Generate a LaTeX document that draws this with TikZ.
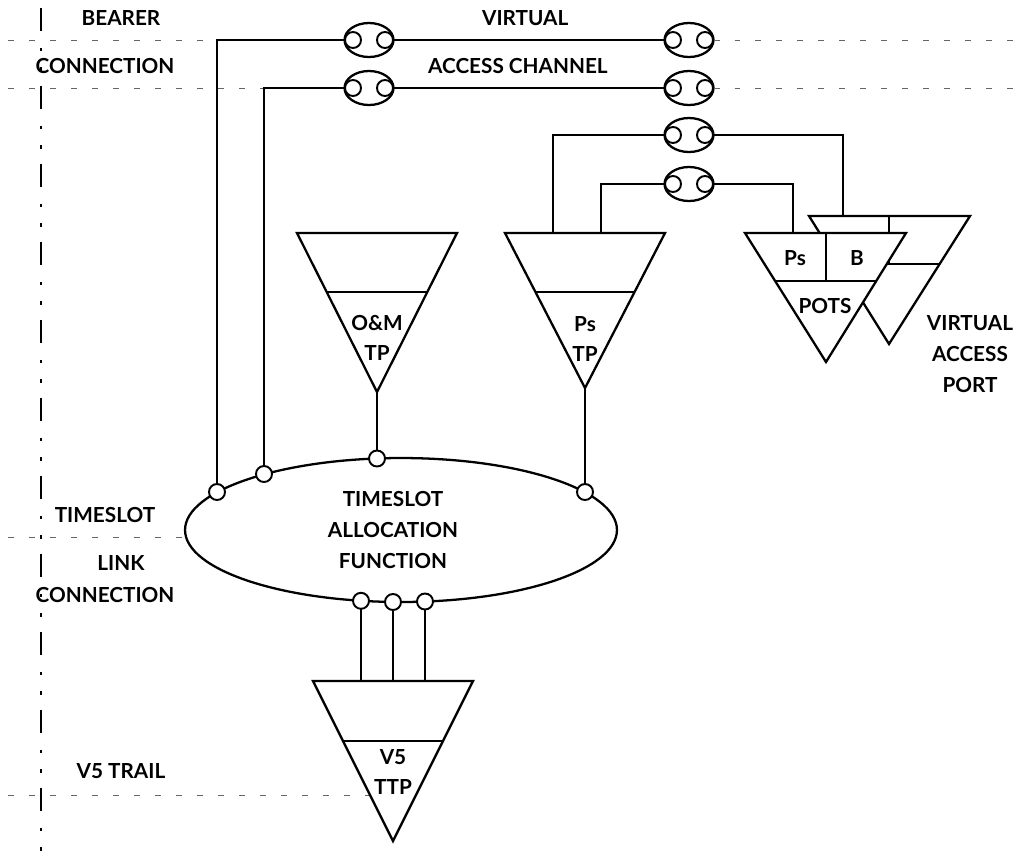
\documentclass[tikz,border=0pt]{standalone}
\usepackage{fontspec}
\setmainfont{Lato}
\usetikzlibrary{shapes.geometric,calc}

\begin{document}
\begin{tikzpicture}[x=0.02cm,y=-0.02cm,line width=1.3pt,
    lbl/.style={font=\fontsize{11.8}{17.5}\selectfont\bfseries,align=center,inner sep=0},
    conn/.style={ellipse,draw,fill=white,minimum width=0.98cm,minimum height=0.68cm,inner sep=0,outer sep=0,
        path picture={\draw[line width=1.1pt] ([xshift=0.17cm]path picture bounding box.west) circle (0.16cm)
            ([xshift=-0.17cm]path picture bounding box.east) circle (0.16cm);}},
    port/.style={circle,draw,fill=white,minimum size=0.32cm,inner sep=0,outer sep=0,line width=1.1pt},
    layer/.style={line width=0.5pt,black!60,dash pattern=on 0.12cm off 0.3cm},
    axisline/.style={line width=0.6pt,dash pattern=on 0.46cm off 0.34cm on 0.07cm off 0.32cm on 0.07cm off 0.30cm}]
    \useasboundingbox (0,0) rectangle (1024,863);

    % layer labels
    \node[lbl] (bearer) at (121,18) {BEARER};
    \node[lbl] (bconn) at (105,66) {CONNECTION};
    \node[lbl,anchor=west] (virtual) at (481,18) {VIRTUAL};
    \node[lbl,anchor=west] (channel) at (427,66) {ACCESS CHANNEL};
    \node[lbl] (tslot) at (105,515) {TIMESLOT};
    \node[lbl] (link) at (121,563) {LINK};
    \node[lbl] (lconn) at (105,595) {CONNECTION};
    \node[lbl] (trail) at (121,771) {V5 TRAIL};
    \node[lbl] (vap) at (970,354) {VIRTUAL\\ACCESS\\PORT};

    % channels
    \node[conn] (vc1) at (369,40) {};
    \node[conn] (vc2) at (369,88) {};
    \node[conn] (vc3) at (689,40) {};
    \node[conn] (vc4) at (689,88) {};
    \node[conn] (pc1) at (689,135) {};
    \node[conn] (pc2) at (689,184) {};

    % layer lines
    \draw[layer] (8,40) -- (217,40);
    \draw[layer] (vc3.east) -- (1024,40);
    \draw[layer] (8,88) -- (264,88);
    \draw[layer] (vc4.east) -- (1024,88);
    \draw[layer] (8,537) -- (186,537);
    \draw[layer] (8,795) -- (370,795);
    \draw[axisline] (41,8) -- (41,863);

    % timeslot allocation function
    \node[ellipse,draw,minimum width=8.64cm,minimum height=2.88cm,inner sep=0,outer sep=0] (taf) at (401,530) {};
    \node[lbl] (taf-txt) at (393,530) {TIMESLOT\\ALLOCATION\\FUNCTION};
    \node[port] (p1) at (217,492) {};
    \node[port] (p2) at (264,474) {};
    \node[port] (p3) at (377,458.5) {};
    \node[port] (p4) at (585,492) {};
    \node[port] (p5) at (361,600.8) {};
    \node[port] (p6) at (393,602) {};
    \node[port] (p7) at (425,601.5) {};

    % termination points
    \coordinate (om-l) at (297,233); \coordinate (om-r) at (457,233); \coordinate (om-a) at (377,392);
    \coordinate (ps-l) at (505,233); \coordinate (ps-r) at (665,233); \coordinate (ps-a) at (585,388);
    \coordinate (pb-l) at (809,216); \coordinate (pb-r) at (970,216); \coordinate (pb-a) at (889,344);
    \coordinate (pf-l) at (745,233); \coordinate (pf-r) at (906,233); \coordinate (pf-a) at (826,362);
    \coordinate (v5-l) at (313,681); \coordinate (v5-r) at (473,681); \coordinate (v5-a) at (393,841);

    \draw[fill=white] (om-l) -- (om-r) -- (om-a) -- cycle;
    \draw ($(om-l)!0.37!(om-a)$) -- ($(om-r)!0.37!(om-a)$);
    \node[lbl] (om-txt) at (377,338) {O\&M\\TP};

    \draw[fill=white] (ps-l) -- (ps-r) -- (ps-a) -- cycle;
    \draw ($(ps-l)!0.38!(ps-a)$) -- ($(ps-r)!0.38!(ps-a)$);
    \node[lbl] (ps-txt) at (585,339) {Ps\\TP};

    \draw[fill=white] (pb-l) -- (pb-r) -- (pb-a) -- cycle;
    \draw ($(pb-l)!0.375!(pb-a)$) -- ($(pb-r)!0.375!(pb-a)$);
    \draw (889,216) -- (889,264);

    \draw[fill=white] (pf-l) -- (pf-r) -- (pf-a) -- cycle;
    \draw ($(pf-l)!0.372!(pf-a)$) -- ($(pf-r)!0.372!(pf-a)$);
    \draw (826,233) -- (826,281);
    \node[lbl] (pots-ps) at (795,258) {Ps};
    \node[lbl] (pots-b) at (857,258) {B};
    \node[lbl] (pots) at (825,306) {POTS};

    \draw[fill=white] (v5-l) -- (v5-r) -- (v5-a) -- cycle;
    \draw ($(v5-l)!0.375!(v5-a)$) -- ($(v5-r)!0.375!(v5-a)$);
    \node[lbl] (v5-txt) at (393,772) {V5\\TTP};

    % paths
    \draw (p1.north) |- (vc1.west);
    \draw (p2.north) |- (vc2.west);
    \draw (vc1.east) -- (vc3.west);
    \draw (vc2.east) -- (vc4.west);
    \draw (om-a) -- (p3.north);
    \draw (ps-a) -- (p4.north);
    \draw (553,233) |- (pc1.west);
    \draw (pc1.east) -| (843,216);
    \draw (601,233) |- (pc2.west);
    \draw (pc2.east) -| (793,233);
    \foreach \p in {p5,p6,p7}
        \draw (\p.south) -- (\p.south |- v5-l);

\end{tikzpicture}
\end{document}
